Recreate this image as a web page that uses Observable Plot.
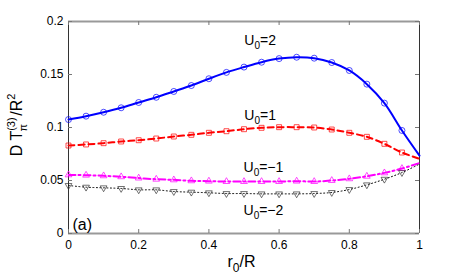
<!DOCTYPE html>
<html>
<head>
<meta charset="utf-8">
<script src="https://cdn.jsdelivr.net/npm/d3@7"></script>
<script src="https://cdn.jsdelivr.net/npm/@observablehq/plot@0.6"></script>
<style>
  html, body { margin: 0; padding: 0; background: #fff; }
  #chart { width: 463px; height: 279px; }
</style>
</head>
<body>
<div id="chart"></div>
<script>
// ---- data ----
const r = [0, 0.05, 0.1, 0.15, 0.2, 0.25, 0.3, 0.35, 0.4, 0.45, 0.5, 0.55, 0.6, 0.65, 0.7, 0.75, 0.8, 0.85, 0.9, 0.95, 1];
const u2 = [0.1075, 0.1107, 0.1144, 0.1186, 0.1236, 0.1285, 0.134, 0.1396, 0.146, 0.152, 0.157, 0.1616, 0.165, 0.1663, 0.1654, 0.1613, 0.1538, 0.1409, 0.123, 0.0972, 0.0735];
const u1 = [0.083, 0.084, 0.0852, 0.0868, 0.088, 0.0896, 0.0915, 0.0931, 0.095, 0.0965, 0.0984, 0.0997, 0.1003, 0.1003, 0.1, 0.0981, 0.095, 0.0912, 0.0846, 0.0764, 0.0705];
const um1 = [0.0553, 0.055, 0.0544, 0.0535, 0.0523, 0.0512, 0.0506, 0.0497, 0.0494, 0.049, 0.049, 0.049, 0.049, 0.0494, 0.049, 0.05, 0.0516, 0.054, 0.0572, 0.0613, 0.0665];
const um2 = [0.0453, 0.0437, 0.0431, 0.0425, 0.0412, 0.0412, 0.0396, 0.039, 0.0384, 0.0377, 0.0377, 0.0374, 0.0374, 0.0374, 0.0377, 0.0387, 0.0415, 0.0459, 0.0512, 0.0575, 0.0655];

const xTicks = [0, 0.2, 0.4, 0.6, 0.8, 1];
const yTicks = [0, 0.05, 0.1, 0.15, 0.2];

const labelText = ["U0=2", "U0=1", "U0=\u22121", "U0=\u22122"];
const labelX = [0.501, 0.501, 0.4986, 0.4986];
const labelY = [0.1774, 0.1075, 0.0578, 0.0179];

// ---- build tables ----
const rows = (ys) => r.map((x, i) => ({x, y: ys[i]}));
const markerRows = (ys) => rows(ys).filter(d => d.x < 1);
const labels = labelText.map((t, i) => ({t, x: labelX[i], y: labelY[i]}));

const triangleDown = {
  draw(context, size) {
    const y = -Math.sqrt(size / (Math.sqrt(3) * 3));
    context.moveTo(0, -y * 2);
    context.lineTo(-Math.sqrt(3) * y, y);
    context.lineTo(Math.sqrt(3) * y, y);
    context.closePath();
  }
};

const W = 463, H = 279, mL = 68, mR = 44, mT = 21, mB = 46;
const plotW = W - mL - mR, plotH = H - mT - mB;
const fmt = d => String(d);

const svg = Plot.plot({
  width: W, height: H,
  marginLeft: mL, marginRight: mR, marginTop: mT, marginBottom: mB,
  x: {domain: [0, 1]},
  y: {domain: [0, 0.2]},
  style: {fontFamily: "'Liberation Sans', Arial, Helvetica, sans-serif", fontSize: "12px", color: "#000", background: "#fff", overflow: "visible"},
  marks: [
    // frame
    Plot.ruleY([0.2], {stroke: "#999", strokeWidth: 2}),
    Plot.ruleY([0], {stroke: "#999", strokeWidth: 2}),
    Plot.ruleX([0], {stroke: "#333", strokeWidth: 1}),
    Plot.ruleX([1], {stroke: "#333", strokeWidth: 1}),
    // inward ticks
    Plot.tickX(xTicks, {x: d => d, insetTop: plotH - 4, stroke: "#777"}),
    Plot.tickX(xTicks, {x: d => d, insetBottom: plotH - 4, stroke: "#777"}),
    Plot.tickY(yTicks, {y: d => d, insetRight: plotW - 4, stroke: "#777"}),
    Plot.tickY(yTicks, {y: d => d, insetLeft: plotW - 4, stroke: "#777"}),
    // axes labels
    Plot.axisX(xTicks, {anchor: "bottom", tickSize: 0, tickPadding: 7, label: null, tickFormat: fmt, fill: "#000"}),
    Plot.axisY(yTicks, {anchor: "left", tickSize: 0, tickPadding: 5, label: null, tickFormat: fmt, fill: "#000"}),
    // series
    Plot.line(rows(u2), {x: "x", y: "y", stroke: "#0000ff", strokeWidth: 2, curve: "catmull-rom"}),
    Plot.dot(markerRows(u2), {x: "x", y: "y", symbol: "circle", r: 3, stroke: "#0000ff", strokeWidth: 0.7, fill: "none"}),
    Plot.line(rows(u1), {x: "x", y: "y", stroke: "#ff0000", strokeWidth: 2, strokeDasharray: "6,4", curve: "catmull-rom"}),
    Plot.dot(markerRows(u1), {x: "x", y: "y", symbol: "square", r: 2.8, stroke: "#ff0000", strokeWidth: 0.7, fill: "none"}),
    Plot.line(rows(um1), {x: "x", y: "y", stroke: "#ff00ff", strokeWidth: 2, strokeDasharray: "7,3,2,3", curve: "catmull-rom"}),
    Plot.dot(markerRows(um1), {x: "x", y: "y", symbol: "triangle", r: 2.5, stroke: "#ff00ff", strokeWidth: 0.7, fill: "none"}),
    Plot.line(rows(um2), {x: "x", y: "y", stroke: "#000", strokeWidth: 1, strokeDasharray: "1,2.5", curve: "catmull-rom"}),
    Plot.dot(markerRows(um2), {x: "x", y: "y", symbol: triangleDown, r: 2.5, stroke: "#333", strokeWidth: 0.7, fill: "none"}),
    // curve labels
    Plot.text(labels, {x: "x", y: "y", text: "t", textAnchor: "start", lineAnchor: "bottom", fontSize: 14, fill: "#000", className: "ulabel"}),
    // panel tag
    Plot.text(["(a)"], {frameAnchor: "bottom-left", dx: 4, dy: -4, textAnchor: "start", lineAnchor: "bottom", fontSize: 16, fill: "#000"})
  ]
});

// subscript the curve labels
d3.select(svg).selectAll(".ulabel text").each(function() {
  const s = this.textContent;
  const t = d3.select(this);
  t.text(null);
  t.append("tspan").text(s.slice(0, 1));
  t.append("tspan").attr("font-size", 10).attr("dy", 4).text(s.slice(1, 2));
  t.append("tspan").attr("dy", -4).text(s.slice(2));
});

// y axis label: D T^(3)_pi / R^2
const yl = d3.select(svg).append("text")
  .attr("transform", `translate(22,${mT + plotH / 2 - 2}) rotate(-90)`)
  .attr("text-anchor", "middle")
  .attr("font-size", 16)
  .attr("fill", "#000");
yl.append("tspan").text("D T");
yl.append("tspan").attr("font-size", 11).attr("dy", -7).text("(3)");
yl.append("tspan").attr("font-size", 11).attr("dx", -14).attr("dy", 12).text("\u03c0");
yl.append("tspan").attr("dx", 8).attr("dy", -5).text("/R");
yl.append("tspan").attr("font-size", 11).attr("dy", -7).text("2");

// x axis label: r_0/R
const xl = d3.select(svg).append("text")
  .attr("transform", `translate(${mL + plotW / 2 - 2},${H - 12})`)
  .attr("text-anchor", "middle")
  .attr("font-size", 16)
  .attr("fill", "#000");
xl.append("tspan").text("r");
xl.append("tspan").attr("font-size", 12).attr("dy", 5).text("0");
xl.append("tspan").attr("dy", -5).text("/R");

document.getElementById("chart").appendChild(svg);
</script>
</body>
</html>
